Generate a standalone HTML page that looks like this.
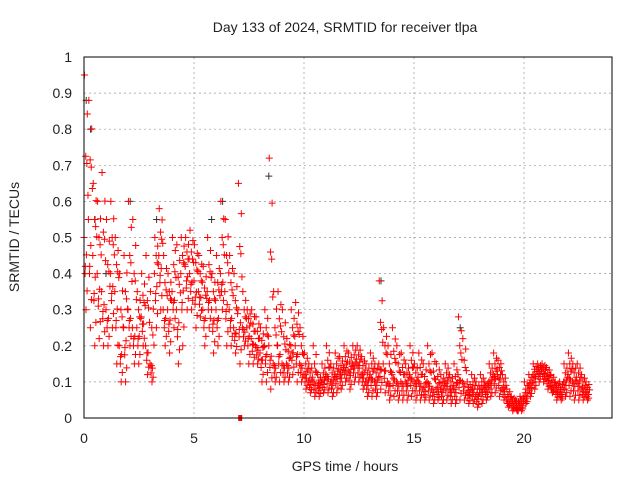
<!DOCTYPE html>
<html><head><meta charset="utf-8"><style>
body{margin:0;background:#fff;}
svg{display:block;font-family:"Liberation Sans",sans-serif;}
</style></head><body>
<svg id="c" width="640" height="480"></svg>
<script>
const times=[];for(let i=0;i<115;i++)times.push(+(i*0.2).toFixed(1));
const hiVals=[.95,.88,.65,.6,.68,.55,.6,.5,.4,.45,.6,.55,.35,.4,.45,.35,.5,.58,.45,.4,.5,.48,.5,.5,.52,.48,.45,.42,.5,.4,.45,.6,.55,.45,.4,.65,.35,.3,.3,.28,.25,.3,.72,.35,.35,.3,.22,.3,.32,.25,.18,.15,.2,.12,.15,.2,.15,.18,.17,.2,.18,.2,.2,.17,.15,.18,.15,.38,.25,.2,.25,.2,.18,.15,.2,.15,.18,.15,.2,.18,.15,.12,.15,.12,.15,.28,.22,.1,.12,.1,.12,.1,.15,.18,.16,.12,.08,.06,.05,.06,.1,.12,.15,.15,.15,.14,.12,.1,.1,.15,.18,.15,.15,.12,.1];
const midVals=[.5,.55,.45,.4,.35,.3,.4,.35,.2,.25,.3,.25,.25,.28,.2,.15,.4,.45,.3,.3,.35,.3,.4,.42,.4,.38,.35,.3,.35,.3,.3,.4,.35,.3,.25,.3,.25,.25,.22,.2,.18,.2,.2,.15,.2,.15,.15,.2,.2,.15,.12,.1,.1,.09,.1,.12,.1,.12,.12,.14,.13,.15,.15,.12,.1,.12,.1,.15,.15,.1,.12,.1,.1,.1,.12,.1,.1,.08,.1,.08,.08,.08,.1,.08,.08,.12,.1,.07,.08,.06,.08,.08,.1,.12,.12,.08,.05,.04,.03,.04,.06,.09,.12,.13,.13,.11,.09,.08,.07,.1,.12,.1,.1,.08,.07];
const loVals=[.3,.25,.2,.22,.2,.2,.25,.15,.1,.1,.2,.15,.15,.2,.12,.1,.25,.3,.2,.18,.25,.15,.2,.3,.3,.25,.28,.2,.25,.18,.2,.3,.2,.2,.18,.15,.2,.15,.15,.15,.1,.1,.08,.1,.1,.1,.1,.12,.1,.1,.08,.07,.06,.06,.07,.07,.06,.07,.08,.1,.08,.1,.1,.08,.06,.06,.06,.08,.07,.05,.06,.05,.05,.05,.06,.05,.05,.05,.05,.04,.05,.04,.05,.04,.04,.05,.05,.04,.04,.03,.04,.05,.06,.07,.06,.05,.03,.02,.02,.02,.04,.06,.08,.1,.1,.08,.07,.05,.05,.06,.06,.05,.05,.05,.05];
const blackT=[0.1,0.3,0.5,1.0,2.1,3.3,5.8,6.3,8.4,13.5,17.1];
const blackV=[.88,.8,.55,.4,.6,.55,.55,.6,.67,.38,.25];
const xTicks=[0,5,10,15,20];
const yTicks=[0,0.1,0.2,0.3,0.4,0.5,0.6,0.7,0.8,0.9,1];
const yLabels=["0","0.1","0.2","0.3","0.4","0.5","0.6","0.7","0.8","0.9","1"];
const L=84,R=612,T=57,B=418;
const X=v=>L+v/24*(R-L), Y=v=>B-v*(B-T);
const svg=document.getElementById('c');const NS='http://www.w3.org/2000/svg';
function mk(tag,a,txt){const e=document.createElementNS(NS,tag);for(const k in a)e.setAttribute(k,a[k]);if(txt!==undefined)e.textContent=txt;svg.appendChild(e);return e;}
xTicks.forEach(t=>{if(t>0){const g=mk('line',{x1:X(t),x2:X(t),y1:T,y2:B,stroke:'#999','stroke-dasharray':'2,3','stroke-width':0.7});

}
const l=mk('text',{x:X(t),y:B+25,'text-anchor':'middle','font-size':14,fill:'#222'},t);

});
yTicks.forEach((t,i)=>{if(t>0&&t<1){const g=mk('line',{x1:L,x2:R,y1:Y(t),y2:Y(t),stroke:'#999','stroke-dasharray':'2,3','stroke-width':0.7});

}
const l=mk('text',{x:L-12,y:Y(t)+5,'text-anchor':'end','font-size':14,fill:'#222'},yLabels[i]);

});
function plus(t,v,c){const x=X(t),y=Y(v);const p=mk('path',{d:`M${x-3.5},${y}h7M${x},${y-3.5}v7`,stroke:c,'stroke-width':1,fill:'none'});

}
blackT.forEach((t,i)=>plus(t,blackV[i],'#333'));
const fr8=[0,0.12,0.25,0.37,0.5,0.62,0.75,0.87,1];
const dt8=[0.02,0.15,0.08,0.18,0.0,0.11,0.05,0.14,0.09];
times.forEach((t,i)=>{
 fr8.forEach((f,k)=>{
  const v=f<0.5?hiVals[i]+(midVals[i]-hiVals[i])*f*2:midVals[i]+(loVals[i]-midVals[i])*(f-0.5)*2;
  plus(t+dt8[k],v,'red');
 });
 plus(t+0.06,(midVals[i]+loVals[i])/2+0.02,'red');
 plus(t+0.13,(midVals[i]+hiVals[i])/2-0.02,'red');
});
const sq=mk('rect',{x:X(7.1)-2,y:B-3,width:4,height:6,fill:'red'});


const fr=mk('rect',{x:L,y:T,width:R-L,height:B-T,fill:'none',stroke:'#000','stroke-width':1});


const ti=mk('text',{x:345,y:32,'text-anchor':'middle','font-size':14,fill:'#222'},'Day 133 of 2024, SRMTID for receiver tlpa');


const xt=mk('text',{x:345,y:471,'text-anchor':'middle','font-size':14,fill:'#222'},'GPS time / hours');


const yt=mk('text',{x:19,y:237,'text-anchor':'middle','font-size':14,fill:'#222',transform:'rotate(-90 19 237)'},'SRMTID / TECUs');


</script>
</body></html>
